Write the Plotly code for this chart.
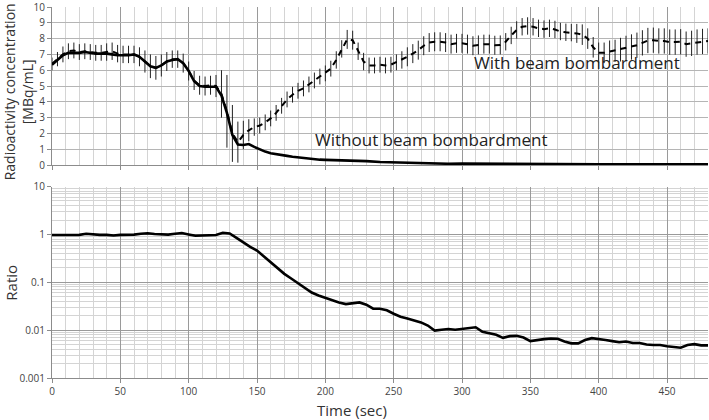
import plotly.graph_objects as go
from plotly.subplots import make_subplots

# ---------------- data ----------------
time_with = list(range(0, 481, 4))
conc_with = [
    6.4, 6.7, 7.0, 7.2, 7.25, 7.15, 7.2, 7.15, 7.1, 7.1,
    7.15, 7.2, 7.05, 7.0, 7.0, 7.0, 6.85, 6.55, 6.25, 6.15,
    6.3, 6.55, 6.7, 6.7, 6.45, 5.95, 5.35, 5.05, 5.0, 5.05,
    5.0, 4.5, 3.4, 2.0, 1.45, 1.9, 2.2, 2.4, 2.5, 2.7,
    2.95, 3.3, 3.75, 4.15, 4.45, 4.7, 4.85, 5.1, 5.35, 5.6,
    5.8, 6.1, 6.65, 7.35, 7.95, 7.9, 7.2, 6.55, 6.3, 6.3,
    6.35, 6.3, 6.35, 6.5, 6.65, 6.85, 7.05, 7.27, 7.55, 7.75,
    7.8, 7.8, 7.75, 7.65, 7.7, 7.7, 7.65, 7.55, 7.6, 7.65,
    7.65, 7.58, 7.6, 7.8, 8.2, 8.55, 8.75, 8.8, 8.75, 8.65,
    8.6, 8.65, 8.58, 8.45, 8.4, 8.38, 8.33, 8.25, 8.0, 7.45,
    7.1, 7.1, 7.18, 7.23, 7.3, 7.38, 7.47, 7.58, 7.73, 7.88,
    7.9, 7.85, 7.85, 7.78, 7.78, 7.8, 7.65, 7.7, 7.78, 7.82,
    7.85,
]
err_with = [
    0.4, 0.45, 0.5, 0.5, 0.5, 0.5, 0.5, 0.5, 0.5, 0.5,
    0.55, 0.55, 0.55, 0.55, 0.55, 0.55, 0.6, 0.7, 0.75, 0.75,
    0.7, 0.6, 0.55, 0.55, 0.6, 0.6, 0.6, 0.6, 0.6, 0.6,
    0.7, 1.5, 2.3, 1.8, 1.3, 0.9, 0.7, 0.55, 0.5, 0.5,
    0.5, 0.5, 0.5, 0.5, 0.5, 0.5, 0.5, 0.5, 0.5, 0.5,
    0.5, 0.5, 0.55, 0.55, 0.6, 0.6, 0.55, 0.55, 0.5, 0.5,
    0.5, 0.5, 0.5, 0.5, 0.55, 0.6, 0.6, 0.6, 0.6, 0.6,
    0.6, 0.6, 0.6, 0.6, 0.6, 0.6, 0.6, 0.6, 0.6, 0.6,
    0.6, 0.6, 0.6, 0.55, 0.55, 0.55, 0.55, 0.55, 0.55, 0.55,
    0.55, 0.55, 0.55, 0.55, 0.55, 0.55, 0.6, 0.65, 0.65, 0.65,
    0.65, 0.65, 0.7, 0.7, 0.75, 0.8, 0.8, 0.8, 0.8, 0.8,
    0.8, 0.8, 0.8, 0.8, 0.8, 0.8, 0.8, 0.8, 0.8, 0.8,
    0.8,
]

time_without = [
    0, 4, 8, 12, 16, 20, 24, 28, 32, 36, 40, 44, 48, 52, 56, 60, 64, 68, 72, 76,
    80, 84, 88, 92, 96, 100, 104, 108, 112, 116, 120, 124, 128, 132, 136, 140,
    144, 148, 152, 156, 160, 164, 168, 172, 176, 180, 184, 188, 192, 196, 200,
    210, 220, 230, 240, 250, 260, 270, 280, 290, 300, 310, 320, 330, 340, 350,
    360, 370, 380, 390, 400, 410, 420, 430, 440, 450, 460, 470, 480,
]
conc_without = [
    6.35, 6.65, 6.95, 7.1, 7.1, 7.1, 7.15, 7.1, 7.05, 7.05, 7.05, 7.0, 6.95, 6.95,
    6.95, 7.0, 6.85, 6.55, 6.25, 6.15, 6.3, 6.55, 6.65, 6.7, 6.45, 5.95, 5.3,
    5.0, 4.95, 4.95, 4.95, 4.4, 3.3, 1.9, 1.3, 1.27, 1.33, 1.15, 0.98, 0.85,
    0.75, 0.68, 0.63, 0.58, 0.53, 0.49, 0.44, 0.39, 0.36, 0.34, 0.33,
    0.31, 0.29, 0.25, 0.19, 0.16, 0.13, 0.11, 0.09, 0.08, 0.09, 0.09, 0.08,
    0.07, 0.06, 0.055, 0.05, 0.05, 0.045, 0.045, 0.045, 0.04, 0.04, 0.04,
    0.04, 0.035, 0.035, 0.04, 0.04,
]

time_ratio = list(range(0, 481, 5))
ratio = [
    0.97, 0.97, 0.97, 0.97, 0.98, 1.03, 0.99, 0.98, 0.98, 0.95,
    0.98, 0.98, 0.99, 1.03, 1.06, 1.02, 1.0, 0.99, 1.03, 1.07,
    1.0, 0.94, 0.95, 0.95, 0.97, 1.08, 1.05, 0.85, 0.68, 0.55,
    0.46, 0.35, 0.27, 0.2, 0.15, 0.12, 0.095, 0.078, 0.061, 0.053,
    0.047, 0.043, 0.038, 0.035, 0.037, 0.038, 0.034, 0.028, 0.028, 0.026,
    0.022, 0.019, 0.0175, 0.016, 0.0145, 0.0125, 0.0098, 0.0102, 0.0106, 0.0102,
    0.0105, 0.011, 0.0115, 0.0092, 0.0085, 0.008, 0.0069, 0.0075, 0.0076, 0.007,
    0.0059, 0.0063, 0.0065, 0.0067, 0.0066, 0.0058, 0.0053, 0.0053, 0.0062, 0.0068,
    0.0064, 0.0062, 0.0059, 0.0056, 0.0058, 0.0054, 0.0054, 0.005, 0.0049, 0.0049,
    0.0046, 0.0044, 0.0043, 0.0049, 0.0051, 0.0048, 0.0048,
]

x_ticks = [0, 50, 100, 150, 200, 250, 300, 350, 400, 450]
conc_ticks = [0, 1, 2, 3, 4, 5, 6, 7, 8, 9, 10]
ratio_ticks = [0.001, 0.01, 0.1, 1, 10]
ratio_labels = ["0.001", "0.01", "0.1", "1", "10"]

# ---------------- figure ----------------
fig = make_subplots(rows=2, cols=1, shared_xaxes=False, vertical_spacing=0.0)

fig.add_trace(go.Scatter(
    x=time_with, y=conc_with, mode="lines",
    line=dict(color="black", width=2, dash="6px,5px"),
    error_y=dict(type="data", array=err_with, visible=True,
                 color="#222222", thickness=1, width=0),
    showlegend=False), row=1, col=1)

fig.add_trace(go.Scatter(
    x=time_without, y=conc_without, mode="lines",
    line=dict(color="black", width=2.6),
    showlegend=False), row=1, col=1)

fig.add_trace(go.Scatter(
    x=time_ratio, y=ratio, mode="lines",
    line=dict(color="black", width=2.6),
    showlegend=False), row=2, col=1)

grid_major = "#9a9a9a"
grid_minor = "#d4d4d4"
txt_family = "Open Sans, Arial, sans-serif"
tick_font = dict(family=txt_family, size=10, color="#444444")

common_x = dict(range=[0, 480], tickvals=x_ticks, showgrid=True, gridcolor=grid_major,
                gridwidth=1, zeroline=False, showline=True, linecolor="#8c8c8c",
                ticks="outside", ticklen=4, tickcolor="#8c8c8c", automargin=False,
                minor=dict(dtick=10, showgrid=True, gridcolor=grid_minor, ticks=""),
                tickfont=tick_font)

fig.update_xaxes(**common_x, showticklabels=False, row=1, col=1)
fig.update_xaxes(**common_x, showticklabels=True, row=2, col=1)

fig.update_yaxes(range=[0, 10], tickvals=conc_ticks, showgrid=True, gridcolor="#b5b5b5",
                 zeroline=False, showline=True, linecolor="#8c8c8c", automargin=False,
                 ticks="outside", ticklen=4, tickcolor="#8c8c8c", tickfont=tick_font,
                 ticklabeloverflow="allow",
                 row=1, col=1)

fig.update_yaxes(type="log", range=[-3, 1], tickvals=ratio_ticks, ticktext=ratio_labels,
                 showgrid=True, gridcolor=grid_major, zeroline=False, showline=True,
                 linecolor="#8c8c8c", ticks="outside", ticklen=4, tickcolor="#8c8c8c",
                 tickfont=tick_font, automargin=False, ticklabeloverflow="allow",
                 minor=dict(dtick="D1", showgrid=True, gridcolor=grid_minor, ticks=""),
                 row=2, col=1)

fig.update_layout(
    width=709, height=420, autosize=False,
    margin=dict(l=52, r=1, t=7, b=42, autoexpand=False),
    paper_bgcolor="white", plot_bgcolor="white",
    xaxis=dict(domain=[0, 1]), yaxis=dict(domain=[0.574, 1.0]),
    xaxis2=dict(domain=[0, 1]), yaxis2=dict(domain=[0.0, 0.516]),
)

title_font = dict(family=txt_family, size=14, color="#333333")
fig.add_annotation(x=-0.0518, y=0.77, xref="paper", yref="paper",
                   text="Radioactivity concentration<br>[MBq/mL]", textangle=-90,
                   showarrow=False, font=title_font, xanchor="center", yanchor="middle")
fig.add_annotation(x=-0.0625, y=0.257, xref="paper", yref="paper", text="Ratio",
                   textangle=-90, showarrow=False, font=dict(family=txt_family, size=15,
                                                             color="#333333"),
                   xanchor="center", yanchor="middle")
fig.add_annotation(x=0.458, y=-0.0856, xref="paper", yref="paper", text="Time (sec)",
                   showarrow=False, font=dict(family=txt_family, size=15, color="#333333"),
                   xanchor="center", yanchor="middle")

ann_font = dict(family=txt_family, size=17, color="#222222")
fig.add_annotation(x=384.5, y=6.5, xref="x", yref="y", text="With beam bombardment",
                   showarrow=False, font=ann_font)
fig.add_annotation(x=277.6, y=1.6, xref="x", yref="y", text="Without beam bombardment",
                   showarrow=False, font=ann_font)

fig.write_html(
    "out.html",
    config={"responsive": False, "displayModeBar": False},
    post_script="document.body.style.margin='0';document.body.style.padding='0';"
                "document.body.style.overflow='hidden';",
)
